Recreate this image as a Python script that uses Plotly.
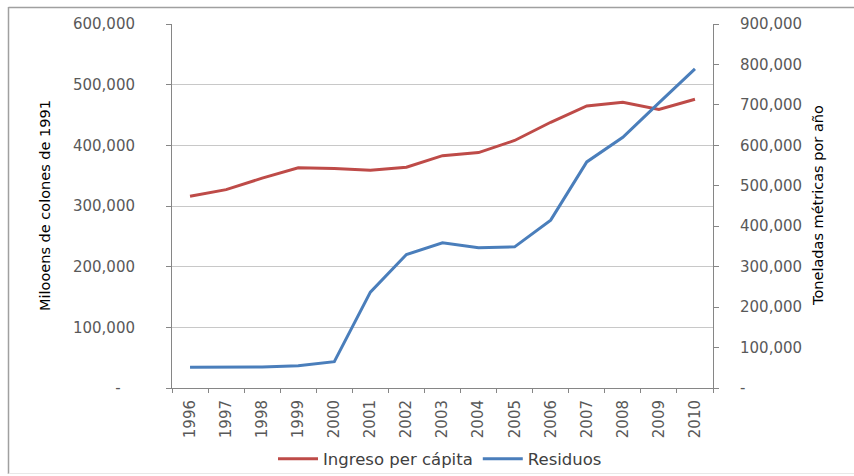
import plotly.graph_objects as go

years = ["1996", "1997", "1998", "1999", "2000", "2001", "2002", "2003",
         "2004", "2005", "2006", "2007", "2008", "2009", "2010"]
ingreso = [316000, 327000, 346000, 363000, 362000, 359000, 364000, 383000,
           388000, 408000, 438000, 465000, 471000, 459000, 476000]
residuos = [51000, 51000, 52000, 55000, 65000, 237000, 330000, 359000,
            347000, 349000, 415000, 559000, 620000, 705000, 789000]

left_ticks = [0, 100000, 200000, 300000, 400000, 500000, 600000]
left_text = ["-\u00a0\u00a0\u00a0"] + [f"{v:,}" for v in left_ticks[1:]]
right_ticks = [0, 100000, 200000, 300000, 400000, 500000, 600000, 700000, 800000, 900000]
right_text = ["-"] + [f"{v:,}" for v in right_ticks[1:]]

W, H = 854, 476
L, R, T, B = 172, 713, 24, 388

def px(x):
    return (x - L) / (R - L)

def py(y):
    return (B - y) / (B - T)

fnt = dict(family="DejaVu Sans", size=15, color="#595959")

fig = go.Figure()
fig.add_trace(go.Scatter(x=years, y=ingreso, name="Ingreso per cápita", mode="lines",
                         line=dict(color="#BE4B48", width=3), yaxis="y"))
fig.add_trace(go.Scatter(x=years, y=residuos, name="Residuos", mode="lines",
                         line=dict(color="#4A7EBB", width=3), yaxis="y2"))

fig.update_layout(
    width=W, height=H,
    margin=dict(l=L, r=W - R, t=T, b=H - B, autoexpand=False),
    paper_bgcolor="white", plot_bgcolor="white",
    showlegend=True,
    legend=dict(orientation="h", xref="container", yref="container",
                x=440 / W, y=1 - 459 / H, xanchor="center", yanchor="middle",
                font=dict(family="DejaVu Sans", size=16.5, color="#404040"),
                itemwidth=40, tracegroupgap=0, bgcolor="rgba(0,0,0,0)"),
    xaxis=dict(type="category", range=[-0.5, 14.5], tickangle=-90, automargin=False,
               tickfont=fnt, showline=True, linecolor="#868686", linewidth=1,
               ticks="outside", tickson="boundaries", ticklen=4, tickcolor="#868686",
               ticklabelstandoff=5,
               showgrid=False, mirror=False, zeroline=False),
    yaxis=dict(range=[0, 600000], tickvals=left_ticks, ticktext=left_text, automargin=False,
               tickfont=fnt, showline=True, linecolor="#868686", linewidth=1,
               ticks="outside", ticklen=5, tickcolor="#868686", ticklabelstandoff=28,
               showgrid=True, gridcolor="#C8C8C8", gridwidth=1, zeroline=False),
    yaxis2=dict(range=[0, 900000], tickvals=right_ticks, ticktext=right_text, automargin=False,
                overlaying="y", side="right", tickfont=fnt,
                showline=True, linecolor="#868686", linewidth=1,
                ticks="outside", ticklen=5, tickcolor="#868686", ticklabelstandoff=18,
                showgrid=False, zeroline=False),
    annotations=[
        dict(text="Milooens de colones de 1991", textangle=-90, xref="paper", yref="paper",
             x=px(45), y=py(206), showarrow=False, xanchor="center", yanchor="middle",
             font=dict(family="DejaVu Sans", size=14.5, color="#000000")),
        dict(text="Toneladas métricas por año", textangle=-90, xref="paper", yref="paper",
             x=px(818), y=py(206), showarrow=False, xanchor="center", yanchor="middle",
             font=dict(family="DejaVu Sans", size=14.5, color="#000000")),
    ],
    shapes=[
        dict(type="line", xref="paper", yref="paper", x0=px(8.5), x1=px(8.5), y0=py(7), y1=py(474),
             line=dict(color="#A0A0A0", width=1.5)),
        dict(type="line", xref="paper", yref="paper", x0=px(8.5), x1=px(854), y0=py(7.5), y1=py(7.5),
             line=dict(color="#A0A0A0", width=1.5)),
        dict(type="line", xref="paper", yref="paper", x0=px(8.5), x1=px(854), y0=py(473.5), y1=py(473.5),
             line=dict(color="#E8E8E8", width=1)),
    ],
)

fig.write_html("out.html")
